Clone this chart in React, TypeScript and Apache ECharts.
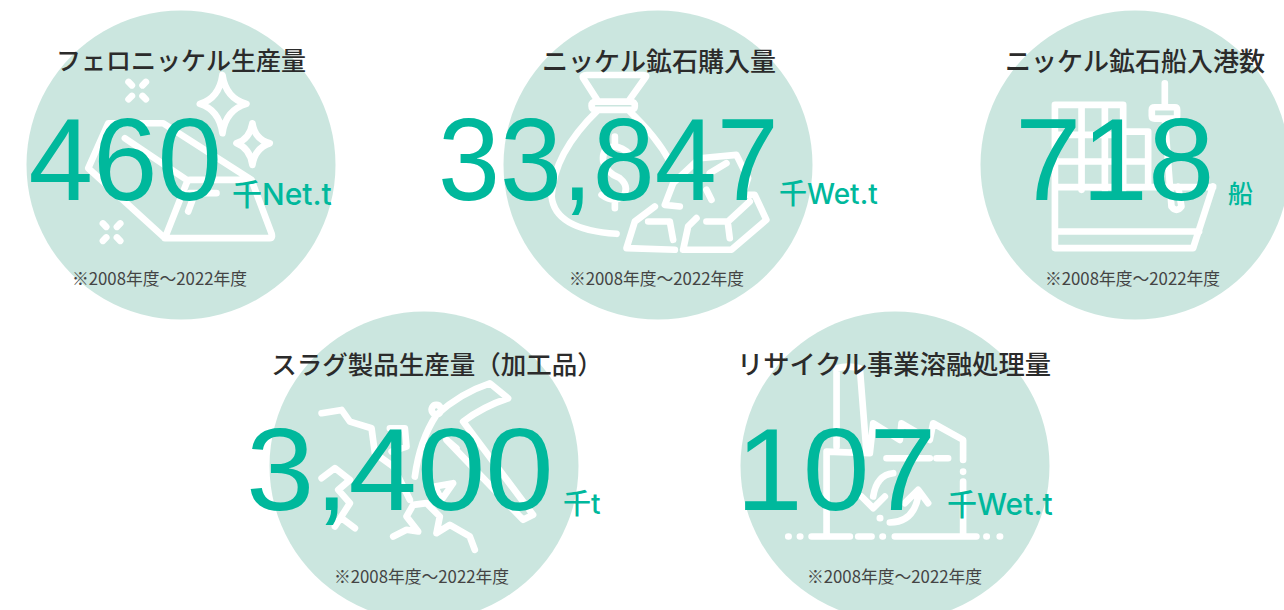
import React, { useEffect, useRef } from "react";
import * as echarts from "echarts";

const titles = ["フェロニッケル生産量", "ニッケル鉱石購入量", "ニッケル鉱石船入港数", "スラグ製品生産量（加工品）", "リサイクル事業溶融処理量"];
const values = ["460", "33,847", "718", "3,400", "107"];
const units = ["千Net.t", "千Wet.t", "船", "千t", "千Wet.t"];
const period = "※2008年度〜2022年度";

const circleX = [181, 658, 1135, 424, 895];
const circleY = [165, 165, 165, 466, 466];
const titleX = [181, 659, 1135, 437, 894];
const titleSize = [25, 26, 26, 25.5, 26.3];
const valueX = [28.5, 438, 1015, 246, 736];
const valueScale = [1.0, 0.96, 1.03, 1.06, 1.035];
const unitX = [232, 779, 1228, 563, 947];
const unitSize = [30, 28, 25, 28, 30];
const noteX = [159.5, 656.5, 1132.5, 421.5, 894.5];

const iconOffset = [[20, 30], [480, 30], [970, 30], [260, 340], [730, 340]];

const iconPaths = [
  "M608 135 Q618 205 680 222 Q618 240 608 310 Q598 240 540 222 Q598 205 608 135Z " +
    "M698 280 Q705 328 750 340 Q705 355 698 405 Q690 355 650 340 Q690 328 698 280Z " +
    "M336 166 L326 156 M368 166 L378 156 M336 198 L326 208 M368 198 L378 208 " +
    "M259 591 L249 581 M291 591 L301 581 M259 623 L249 633 M291 623 L301 633 " +
    "M205 415 L265 280 L430 280 L695 450 L510 450 Q505 450 500 460 L435 625 L205 415Z " +
    "M435 625 L750 625 Q760 625 755 610 L695 450 M315 325 L500 450 M510 490 L590 490 M505 545 L520 505",
  "M355 215 L310 145 Q305 135 320 135 L490 135 Q505 135 495 145 L445 215 " +
    "M350 215 L450 215 Q465 215 465 228 Q465 240 450 240 L350 240 Q335 240 335 228 Q335 215 350 215Z " +
    "M355 240 Q220 370 215 500 Q225 600 410 612 M445 240 Q530 320 570 395 " +
    "M405 320 L405 345 M450 375 Q430 350 400 350 Q365 355 370 395 Q380 430 420 445 Q450 470 430 500 Q400 520 365 495 M405 510 L405 535 " +
    "M585 660 L440 655 L465 575 L525 530 M505 575 L570 575 L580 630 " +
    "M650 565 L625 590 L610 660 L755 660 L860 570 L825 495 L790 495 M680 575 L745 575 L810 515 M745 585 L750 625 " +
    "M555 525 L580 460 L660 385 L770 375 L805 445 L790 490 M555 525 L600 530 M690 430 L740 400 M680 480 L695 510",
  "M255 480 L255 225 L460 225 L460 480 M255 315 L460 315 M255 395 L535 395 M335 225 L335 480 M405 225 L405 480 " +
    "M460 305 L535 305 L535 470 " +
    "M255 480 L255 655 L670 655 L730 470 M255 472 L730 472 M255 605 L688 605 " +
    "M585 160 L585 225 M555 232 L615 232 Q622 232 622 240 L622 258 Q622 266 615 266 L555 266 Q546 266 546 258 L546 240 Q546 232 555 232Z " +
    "M585 266 L605 530 Q620 550 635 530 L625 470",
  "M185 220 L245 210 L270 245 L335 265 L345 340 L400 380 L450 480 " +
    "M390 265 L435 265 L440 320 L395 335 " +
    "M185 415 L225 385 L270 420 L235 450 L270 490 L225 560 M245 535 L285 565 " +
    "M400 590 L440 570 L475 575 L440 530 L460 495 L500 490 L540 530 L530 580 L570 555 L630 590 L645 630 " +
    "M465 410 Q480 300 530 225 Q600 160 690 130 L745 175 Q670 200 610 245 L820 525 L790 540 L560 300 L590 325 " +
    "M530 195 A14 14 0 1 1 529 195Z M525 440 L580 430 L545 480Z",
  "M320 320 L320 85 Q355 75 390 85 L410 340 L420 340 L430 250 L510 300 L515 250 L600 300 L610 250 L700 300 L700 360 " +
    "M700 425 L700 590 M290 590 L290 335 L420 340 " +
    "M470 355 L600 355 M620 355 L655 355 " +
    "M175 590 L176 590 M210 590 L211 590 M245 590 L360 590 M385 590 L425 590 M458 590 L459 590 M495 590 L740 590 M770 590 L771 590 M810 590 L811 590 " +
    "M700 395 L700 396 M450 535 L451 535 " +
    "M490 400 Q440 405 430 470 M395 470 L430 505 L465 470 " +
    "M480 548 Q550 548 565 470 M525 490 L565 450 L595 490",
];

iconPaths.forEach((d, i) => {
  echarts.graphic.registerShape("icon" + i, echarts.graphic.extendPath(d, {}));
});

const teal = "#00B89C";
const pale = "#CBE6DF";
const ink = "#2B2B2B";
const jp = '"Noto Sans CJK JP"';

function buildGraphics() {
  const out: any[] = [];
  titles.forEach((t, i) => {
    out.push({ type: "circle", shape: { cx: circleX[i], cy: circleY[i], r: 154.5 }, style: { fill: pale }, z: 1 });
    out.push({
      type: "icon" + i,
      x: iconOffset[i][0],
      y: iconOffset[i][1],
      scaleX: 1 / 3,
      scaleY: 1 / 3,
      style: { fill: "none", stroke: "#fff", lineWidth: 20, lineCap: "round", lineJoin: "round" },
      z: 2,
    });
    const baseline = circleY[i] + (i < 3 ? 37 : 46);
    out.push({
      type: "text",
      x: valueX[i],
      y: baseline - 42,
      scaleX: valueScale[i],
      style: { text: values[i], fill: teal, font: '400 116px "Liberation Sans"', textAlign: "left", textVerticalAlign: "middle" },
      z: 3,
    });
    out.push({
      type: "text",
      x: unitX[i],
      y: baseline - 8,
      style: { text: units[i], fill: teal, font: `500 ${unitSize[i]}px Inter, ${jp}`, textAlign: "left", textVerticalAlign: "middle" },
      z: 3,
    });
    out.push({
      type: "text",
      x: titleX[i],
      y: circleY[i] + (i < 3 ? -106 : -104),
      style: { text: t, fill: ink, font: `500 ${titleSize[i]}px ${jp}`, textAlign: "center", textVerticalAlign: "middle" },
      z: 4,
    });
    out.push({
      type: "text",
      x: noteX[i],
      y: circleY[i] + (i < 3 ? 113 : 110),
      style: { text: period, fill: "#444444", font: `400 16.8px ${jp}`, textAlign: "center", textVerticalAlign: "middle" },
      z: 4,
    });
  });
  return out;
}

export default function App() {
  const ref = useRef<HTMLDivElement>(null);
  useEffect(() => {
    document.body.style.margin = "0";
    const chart = echarts.init(ref.current!, undefined, { renderer: "svg" });
    chart.setOption({ animation: false, backgroundColor: "#fff", graphic: { elements: buildGraphics() } });
    return () => chart.dispose();
  }, []);
  return <div ref={ref} style={{ width: 1284, height: 610, overflow: "hidden" }} />;
}
